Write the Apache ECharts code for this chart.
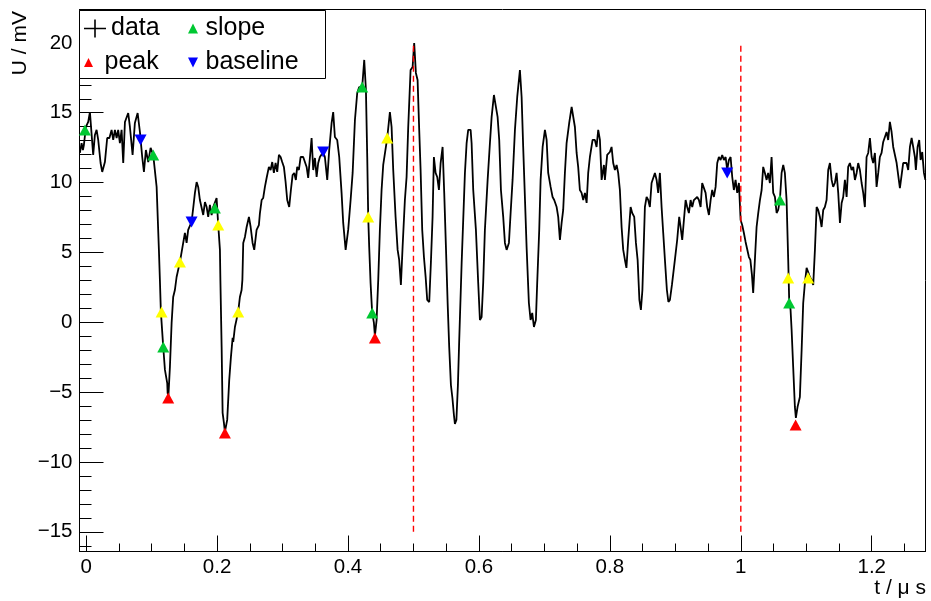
<!DOCTYPE html>
<html>
<head>
<meta charset="utf-8">
<title>Pulse trace</title>
<script src="https://cdn.jsdelivr.net/npm/echarts@6/dist/echarts.min.js"></script>
<style>
html, body { margin: 0; padding: 0; background: #fff; }
#chart { width: 931px; height: 601px; }
</style>
</head>
<body>
<div id="chart"></div>
<script>
// Recorded trace: time in µs, amplitude in mV
const traceTime = [
  -0.0095, -0.0069, -0.0049, -0.0034, -0.0003, 0.0032, 0.0058, 0.0084, 0.0108, 0.0134,
  0.0160, 0.0185, 0.0221, 0.0246, 0.0287, 0.0322, 0.0356, 0.0389, 0.0414, 0.0440,
  0.0466, 0.0490, 0.0516, 0.0542, 0.0567, 0.0593, 0.0643, 0.0669, 0.0710, 0.0745,
  0.0787, 0.0822, 0.0857, 0.0883, 0.0913, 0.0949, 0.0985, 0.1025, 0.1077, 0.1112,
  0.1127, 0.1142, 0.1178, 0.1204, 0.1239, 0.1245, 0.1257, 0.1280, 0.1306, 0.1330,
  0.1356, 0.1382, 0.1433, 0.1483, 0.1509, 0.1535, 0.1559, 0.1611, 0.1636, 0.1662,
  0.1688, 0.1712, 0.1738, 0.1764, 0.1789, 0.1815, 0.1841, 0.1865, 0.1891, 0.1917,
  0.1941, 0.1967, 0.1993, 0.2018, 0.2044, 0.2051, 0.2070, 0.2085, 0.2105, 0.2120,
  0.2155, 0.2186, 0.2212, 0.2238, 0.2247, 0.2273, 0.2323, 0.2349, 0.2375, 0.2387,
  0.2400, 0.2426, 0.2452, 0.2487, 0.2513, 0.2543, 0.2568, 0.2604, 0.2639, 0.2655,
  0.2681, 0.2705, 0.2731, 0.2757, 0.2792, 0.2818, 0.2843, 0.2868, 0.2894, 0.2919,
  0.2945, 0.2971, 0.2995, 0.3021, 0.3047, 0.3072, 0.3102, 0.3128, 0.3154, 0.3179,
  0.3204, 0.3224, 0.3250, 0.3276, 0.3316, 0.3368, 0.3392, 0.3444, 0.3469, 0.3495,
  0.3521, 0.3545, 0.3571, 0.3621, 0.3647, 0.3683, 0.3713, 0.3750, 0.3774, 0.3800,
  0.3835, 0.3866, 0.3902, 0.3927, 0.3964, 0.4003, 0.4040, 0.4071, 0.4106, 0.4141,
  0.4171, 0.4217, 0.4248, 0.4274, 0.4294, 0.4309, 0.4324, 0.4345, 0.4361, 0.4370,
  0.4396, 0.4411, 0.4437, 0.4462, 0.4487, 0.4513, 0.4538, 0.4564, 0.4599, 0.4640,
  0.4666, 0.4691, 0.4727, 0.4758, 0.4782, 0.4808, 0.4834, 0.4869, 0.4895, 0.4920,
  0.4956, 0.4987, 0.5011, 0.5037, 0.5063, 0.5088, 0.5109, 0.5134, 0.5160, 0.5186,
  0.5210, 0.5241, 0.5266, 0.5292, 0.5312, 0.5338, 0.5363, 0.5389, 0.5415, 0.5445,
  0.5470, 0.5496, 0.5522, 0.5546, 0.5572, 0.5595, 0.5618, 0.5633, 0.5656, 0.5679,
  0.5699, 0.5736, 0.5760, 0.5786, 0.5812, 0.5836, 0.5873, 0.5888, 0.5913, 0.5954,
  0.5989, 0.6015, 0.6041, 0.6065, 0.6091, 0.6133, 0.6168, 0.6194, 0.6229, 0.6259,
  0.6285, 0.6310, 0.6336, 0.6371, 0.6397, 0.6423, 0.6458, 0.6484, 0.6514, 0.6550,
  0.6585, 0.6626, 0.6652, 0.6676, 0.6702, 0.6728, 0.6763, 0.6789, 0.6814, 0.6840,
  0.6870, 0.6890, 0.6921, 0.6942, 0.6973, 0.7008, 0.7034, 0.7058, 0.7095, 0.7125,
  0.7150, 0.7187, 0.7211, 0.7237, 0.7263, 0.7287, 0.7313, 0.7339, 0.7379, 0.7416,
  0.7440, 0.7466, 0.7492, 0.7516, 0.7542, 0.7568, 0.7593, 0.7619, 0.7645, 0.7669,
  0.7695, 0.7736, 0.7771, 0.7797, 0.7822, 0.7848, 0.7874, 0.7909, 0.7924, 0.7959,
  0.8000, 0.8026, 0.8051, 0.8077, 0.8103, 0.8127, 0.8153, 0.8179, 0.8204, 0.8230,
  0.8253, 0.8280, 0.8317, 0.8341, 0.8372, 0.8398, 0.8424, 0.8451, 0.8474, 0.8497,
  0.8535, 0.8561, 0.8586, 0.8611, 0.8637, 0.8662, 0.8688, 0.8714, 0.8738, 0.8764,
  0.8790, 0.8815, 0.8841, 0.8871, 0.8894, 0.8917, 0.8948, 0.8993, 0.9028, 0.9059,
  0.9080, 0.9105, 0.9131, 0.9157, 0.9181, 0.9207, 0.9233, 0.9258, 0.9283, 0.9309,
  0.9334, 0.9360, 0.9386, 0.9410, 0.9436, 0.9462, 0.9487, 0.9513, 0.9539, 0.9563,
  0.9589, 0.9615, 0.9640, 0.9665, 0.9691, 0.9716, 0.9742, 0.9768, 0.9792, 0.9818,
  0.9844, 0.9869, 0.9894, 0.9920, 0.9945, 0.9971, 0.9997, 1.0021, 1.0047, 1.0073,
  1.0098, 1.0124, 1.0146, 1.0170, 1.0189, 1.0215, 1.0241, 1.0266, 1.0292, 1.0318,
  1.0342, 1.0368, 1.0394, 1.0418, 1.0444, 1.0470, 1.0495, 1.0521, 1.0547, 1.0571,
  1.0597, 1.0623, 1.0648, 1.0673, 1.0699, 1.0724, 1.0739, 1.0760, 1.0776, 1.0800,
  1.0826, 1.0841, 1.0867, 1.0902, 1.0929, 1.0953, 1.0979, 1.1005, 1.1029, 1.1055,
  1.1081, 1.1106, 1.1132, 1.1158, 1.1182, 1.1208, 1.1234, 1.1259, 1.1284, 1.1310,
  1.1335, 1.1361, 1.1387, 1.1411, 1.1437, 1.1463, 1.1488, 1.1514, 1.1540, 1.1564,
  1.1590, 1.1616, 1.1640, 1.1666, 1.1692, 1.1717, 1.1743, 1.1769, 1.1793, 1.1819,
  1.1845, 1.1870, 1.1895, 1.1921, 1.1946, 1.1972, 1.1998, 1.2022, 1.2048, 1.2074,
  1.2099, 1.2124, 1.2150, 1.2175, 1.2201, 1.2227, 1.2251, 1.2277, 1.2303, 1.2328,
  1.2354, 1.2380, 1.2404, 1.2430, 1.2456, 1.2480, 1.2506, 1.2532, 1.2557, 1.2583,
  1.2609, 1.2633, 1.2659, 1.2674, 1.2700, 1.2725, 1.2746, 1.2771, 1.2797, 1.2819
];
const traceVolt = [
  12.12, 12.83, 12.33, 12.69, 13.98, 14.34, 15.05, 14.98, 11.98, 13.41,
  13.77, 13.05, 11.40, 10.76, 11.47, 13.19, 13.19, 13.77, 13.05, 13.77,
  13.19, 13.77, 12.83, 13.77, 11.40, 14.34, 14.98, 13.98, 11.98, 14.27,
  14.98, 13.62, 11.83, 10.76, 12.33, 11.47, 12.48, 11.98, 9.69, 5.18,
  3.03, 0.74, -1.77, -3.41, -4.35, -5.06, -5.28, -3.20, -0.05, 1.81,
  2.31, 3.24, 4.32, 5.68, 6.39, 5.68, 6.61, 7.18, 8.18, 9.26,
  10.04, 9.69, 8.75, 8.75, 7.68, 8.61, 8.25, 7.54, 8.40, 7.68,
  8.25, 8.18, 8.90, 6.96, 5.18, 3.03, -1.77, -6.49, -7.21, -7.85,
  -6.99, -4.13, -2.48, -1.12, -1.41, -0.34, 0.74, 1.81, 2.31, 3.03,
  5.68, 6.11, 6.82, 7.54, 6.82, 5.68, 5.18, 6.61, 6.96, 7.82,
  8.75, 8.90, 9.69, 10.33, 11.12, 10.90, 11.47, 10.69, 11.40, 10.76,
  11.98, 11.83, 11.47, 11.12, 10.04, 8.75, 8.25, 9.47, 10.54, 10.69,
  10.19, 11.12, 10.90, 11.83, 11.83, 11.12, 10.33, 13.19, 10.90, 11.76,
  10.40, 11.40, 11.83, 12.19, 11.83, 10.19, 12.33, 14.27, 15.05, 13.26,
  13.05, 11.83, 9.26, 7.11, 5.18, 6.61, 8.75, 10.69, 14.48, 16.41,
  16.84, 16.84, 18.78, 16.63, 11.83, 7.54, 5.39, 2.81, 1.38, 0.67,
  -0.05, -0.98, 0.16, 3.03, 6.61, 9.47, 11.26, 11.40, 13.19, 15.05,
  13.98, 10.90, 7.54, 5.18, 4.46, 2.67, 5.39, 8.75, 10.40, 13.98,
  18.06, 18.27, 19.99, 17.85, 17.34, 13.77, 10.90, 6.61, 4.67, 3.24,
  1.60, 1.45, 4.24, 7.54, 11.83, 10.69, 10.40, 9.47, 11.40, 12.55,
  9.26, 5.39, 1.38, -1.77, -4.49, -5.42, -6.64, -7.28, -6.99, -4.49,
  -1.27, 4.24, 7.32, 10.69, 12.83, 13.77, 13.77, 12.83, 9.47, 6.61,
  2.81, 0.16, 0.38, 2.81, 6.61, 10.19, 12.83, 14.70, 16.27, 16.13,
  14.70, 13.05, 9.47, 7.54, 5.68, 5.18, 5.68, 7.82, 10.19, 13.77,
  16.13, 18.06, 16.13, 12.55, 8.97, 5.39, 1.38, 0.16, 0.67, -0.34,
  0.16, 2.81, 6.61, 10.19, 12.55, 13.77, 13.05, 10.69, 9.69, 8.97,
  8.75, 8.25, 7.54, 5.89, 7.11, 8.04, 10.69, 12.83, 14.27, 15.41,
  15.41, 13.98, 12.12, 11.12, 9.47, 9.26, 8.75, 9.26, 8.54, 10.69,
  11.83, 13.05, 13.05, 12.55, 13.77, 13.05, 10.19, 11.26, 10.19, 11.98,
  12.19, 12.55, 11.40, 10.90, 11.26, 10.69, 9.47, 6.82, 5.18, 4.46,
  3.89, 5.89, 8.25, 7.82, 7.54, 5.68, 4.46, 1.60, 0.88, 2.31,
  8.25, 8.97, 8.75, 8.25, 9.97, 10.04, 10.69, 10.19, 9.26, 10.69,
  8.25, 6.39, 4.46, 2.31, 1.45, 1.60, 2.67, 4.46, 5.89, 7.54,
  6.82, 5.89, 7.32, 8.75, 8.25, 7.82, 8.75, 8.25, 8.75, 8.61,
  8.97, 8.75, 8.25, 9.97, 10.04, 9.26, 8.25, 7.68, 8.75, 9.47,
  8.97, 9.69, 11.40, 11.83, 11.62, 11.98, 11.62, 11.83, 10.90, 11.62,
  11.83, 10.40, 9.47, 10.19, 9.26, 9.97, 7.32, 6.96, 6.39, 5.75,
  5.75, 4.67, 4.46, 3.39, 2.10, 4.46, 6.82, 7.82, 8.75, 9.47,
  11.12, 10.69, 10.19, 10.69, 9.97, 11.83, 9.26, 8.97, 7.82, 8.04,
  8.75, 10.69, 11.26, 10.69, 8.75, 4.46, 1.60, 0.88, -0.55, -3.20,
  -6.06, -6.85, -6.06, -5.35, -1.98, 1.38, 2.81, 3.89, 3.60, 3.24,
  3.03, 2.67, 5.18, 8.25, 8.04, 7.54, 6.82, 8.04, 8.25, 8.75,
  10.90, 11.40, 10.19, 9.69, 9.97, 10.69, 9.26, 7.11, 8.54, 8.97,
  10.19, 8.97, 11.12, 11.40, 10.90, 11.12, 10.19, 10.69, 11.40, 10.90,
  9.97, 9.26, 8.25, 11.83, 12.12, 13.19, 11.83, 11.40, 12.12, 9.69,
  10.69, 11.83, 12.12, 12.91, 13.05, 13.62, 13.05, 14.34, 13.62, 12.55,
  12.48, 11.40, 11.40, 9.61, 9.69, 11.40, 11.26, 11.40, 10.90, 12.55,
  13.19, 12.55, 11.83, 10.90, 12.55, 13.05, 11.62, 12.19, 10.69, 10.19
];

// Pulse finder results
const peakTime = [0.1254, 0.2120, 0.4411, 1.0837];
const peakVolt = [-5.42, -7.92, -1.12, -7.35];
const slopeTime = [-0.0018, 0.1025, 0.1178, 0.1967, 0.4217, 0.4370, 1.0597, 1.0739];
const slopeVolt = [13.77, 11.98, -1.77, 8.18, 16.84, 0.67, 8.75, 1.38];
const baselineTime = [0.0832, 0.1611, 0.3621, 0.9792];
const baselineVolt = [13.05, 7.18, 12.19, 10.69];
const edgeTime = [0.1153, 0.1433, 0.2018, 0.2323, 0.4309, 0.4599, 1.0724, 1.1029];
const edgeVolt = [0.74, 4.32, 6.96, 0.74, 7.54, 13.19, 3.17, 3.17];

// Integration window boundaries
const windowTimes = [0.5, 1.0];
const windowRange = [-15, 20];

// Axis ticks
const xMajorTicks = [0, 0.2, 0.4, 0.6, 0.8, 1.0, 1.2];
const xMinorTicks = [0.05, 0.1, 0.15, 0.25, 0.3, 0.35, 0.45, 0.5, 0.55, 0.65, 0.7, 0.75,
                     0.85, 0.9, 0.95, 1.05, 1.1, 1.15, 1.25];
const yMajorTicks = [-15, -10, -5, 0, 5, 10, 15, 20];
const yMinorTicks = [-16, -14, -13, -12, -11, -9, -8, -7, -6, -4, -3, -2, -1, 1, 2, 3, 4,
                     6, 7, 8, 9, 11, 12, 13, 14, 16, 17, 18, 19, 21, 22];

const X_MIN = -0.0101, X_MAX = 1.2821;
const Y_MIN = -16.41, Y_MAX = 22.39;
const FONT = '"Liberation Sans", Arial, Helvetica, sans-serif';

const zip = (a, b) => a.map((v, i) => [v, b[i]]);
const upIcon = 'path://M0,10L5,0L10,10Z';
const downIcon = 'path://M0,0L10,0L5,10Z';
const crossIcon = 'path://M0,8.2L22,8.2L22,9.8L0,9.8Z M10.2,0L11.8,0L11.8,18L10.2,18Z';

const fmtY = v => (v < 0 ? '\u2212' + (-v) : String(v));
const fmtX = v => String(Math.round(v * 10) / 10);

const axisCommon = { type: 'value', splitLine: { show: false } };

const xAxes = [
  Object.assign({}, axisCommon, {
    min: X_MIN, max: X_MAX, position: 'bottom',
    axisLine: { show: true, onZero: false, lineStyle: { color: '#000', width: 1 } },
    axisTick: { show: true, inside: true, length: 16, customValues: xMajorTicks, lineStyle: { color: '#000', width: 1 } },
    axisLabel: { show: true, customValues: xMajorTicks, margin: 5, color: '#000', fontFamily: FONT, fontSize: 20.5, formatter: fmtX }
  }),
  Object.assign({}, axisCommon, {
    min: X_MIN, max: X_MAX, position: 'bottom',
    axisLine: { show: false, onZero: false },
    axisTick: { show: true, inside: true, length: 8, customValues: xMinorTicks, lineStyle: { color: '#000', width: 1 } },
    axisLabel: { show: false }
  })
];
const yAxes = [
  Object.assign({}, axisCommon, {
    min: Y_MIN, max: Y_MAX, position: 'left',
    axisLine: { show: true, onZero: false, lineStyle: { color: '#000', width: 1 } },
    axisTick: { show: true, inside: true, length: 24, customValues: yMajorTicks, lineStyle: { color: '#000', width: 1 } },
    axisLabel: { show: true, customValues: yMajorTicks, margin: 7, color: '#000', fontFamily: FONT, fontSize: 20.5, formatter: fmtY }
  }),
  Object.assign({}, axisCommon, {
    min: Y_MIN, max: Y_MAX, position: 'left',
    axisLine: { show: false, onZero: false },
    axisTick: { show: true, inside: true, length: 12, customValues: yMinorTicks, lineStyle: { color: '#000', width: 1 } },
    axisLabel: { show: false }
  })
];

const markerSeries = (name, t, u, color, rotate) => ({
  name: name, type: 'scatter', data: zip(t, u),
  symbol: 'triangle', symbolSize: [12, 11], symbolRotate: rotate || 0,
  itemStyle: { color: color, opacity: 1 }, z: 6, silent: true
});

const windowSeries = windowTimes.map(t => ({
  type: 'line', data: [[t, windowRange[0]], [t, windowRange[1]]],
  showSymbol: false, symbol: 'none', silent: true, z: 4,
  lineStyle: { color: '#ff0000', width: 1.4, type: [6, 4] }
}));

const legendText = { fontSize: 25, fontFamily: FONT, color: '#000' };

const option = {
  animation: false,
  backgroundColor: '#fff',
  grid: { left: 79.5, top: 9.5, width: 846, height: 542, show: true, borderColor: '#000', borderWidth: 1 },
  xAxis: xAxes,
  yAxis: yAxes,
  legend: [
    { data: [{ name: 'data', icon: crossIcon }], left: 84, top: 16, padding: 0, orient: 'vertical',
      itemWidth: 22, itemHeight: 18, selectedMode: false, textStyle: legendText, z: 20 },
    { data: [{ name: 'peak', icon: upIcon }], left: 84, top: 50, padding: 0, orient: 'vertical',
      itemWidth: 22, itemHeight: 9, selectedMode: false, textStyle: legendText, z: 20 },
    { data: [{ name: 'slope', icon: upIcon }, { name: 'baseline', icon: downIcon }], left: 188, top: 16,
      padding: 0, orient: 'vertical', itemGap: 9, itemWidth: 15, itemHeight: 10, selectedMode: false,
      textStyle: legendText, z: 20 }
  ],
  graphic: [
    { type: 'rect', silent: true, z: 10,
      shape: { x: 79.5, y: 10.5, width: 246, height: 68 },
      style: { fill: '#fff', stroke: '#000', lineWidth: 1 } },
    { type: 'text', silent: true, x: 20.7, y: 11, rotation: Math.PI / 2,
      style: { text: 'U / mV', font: '21px ' + FONT, fill: '#000', align: 'right', verticalAlign: 'middle',
               textAlign: 'right', textVerticalAlign: 'middle' } },
    { type: 'text', silent: true, x: 926, y: 588.5,
      style: { text: 't / \u03bc s', font: '21px ' + FONT, fill: '#000', align: 'right', verticalAlign: 'middle',
               textAlign: 'right', textVerticalAlign: 'middle' } }
  ],
  series: [
    { name: 'data', type: 'line', data: zip(traceTime, traceVolt), showSymbol: false, symbol: 'none',
      color: '#000', lineStyle: { color: '#000', width: 1.8 }, itemStyle: { color: '#000' }, z: 3, silent: true },
    ...windowSeries,
    markerSeries('peak', peakTime, peakVolt, '#ff0000'),
    markerSeries('slope', slopeTime, slopeVolt, '#00c832'),
    markerSeries('baseline', baselineTime, baselineVolt, '#0000ff', 180),
    markerSeries('edge', edgeTime, edgeVolt, '#ffff00')
  ]
};

const chart = echarts.init(document.getElementById('chart'), null, { renderer: 'canvas' });
chart.setOption(option);
</script>
</body>
</html>
